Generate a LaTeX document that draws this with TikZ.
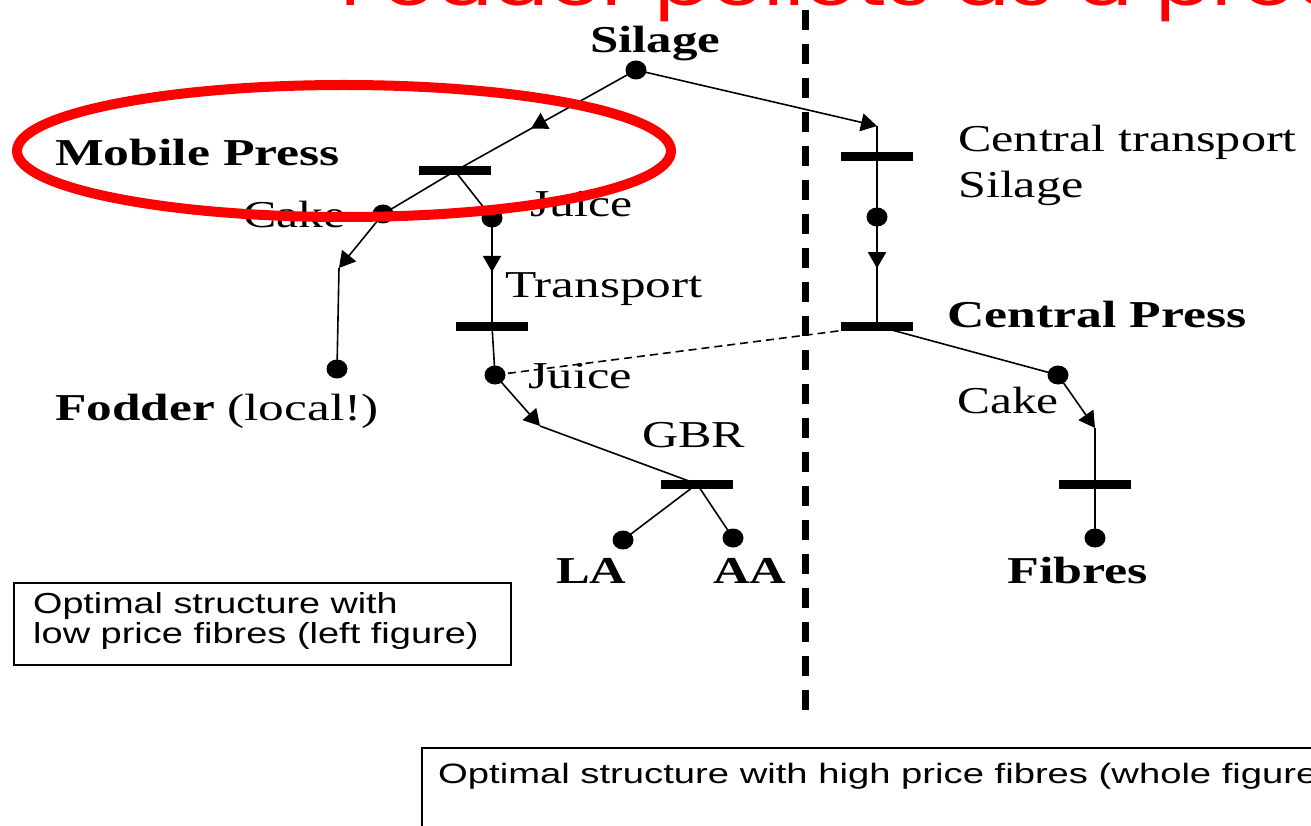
\documentclass[tikz,border=0pt]{standalone}
\usepackage{graphicx}
\usepackage{fontspec}
\setmainfont{Liberation Serif}
\newfontfamily\sansf{Liberation Sans}
\newfontfamily\titlef{Poppins}
\usetikzlibrary{arrows.meta,decorations.markings,shapes.geometric}
\pgfdeclarelayer{background}
\pgfsetlayers{background,main}
\newcommand{\sx}[2]{\scalebox{#1}[1]{#2}}
\begin{document}
\begin{tikzpicture}[x=1pt,y=-1pt,
  lbl/.style={inner sep=0pt, anchor=base west, font=\fontsize{38}{40}\selectfont},
  blbl/.style={inner sep=0pt, anchor=base west, font=\fontsize{38}{40}\selectfont\bfseries},
  slbl/.style={inner sep=0pt, anchor=base west, font=\sansf\fontsize{29}{31}\selectfont},
  dotn/.style={ellipse, fill=black, minimum width=21pt, minimum height=19pt, inner sep=0pt},
  barn/.style={rectangle, fill=black, minimum width=72pt, minimum height=9pt, inner sep=0pt},
  conn/.style={line width=1.6pt},
  tipped/.style={conn, -{Triangle[length=16pt,width=18pt]}},
  midarrow/.style={conn, postaction={decorate}, decoration={markings, mark=at position #1 with {\arrow{Triangle[length=16pt,width=18pt]}}}},
  boxn/.style={draw, line width=1.8pt, anchor=north west, inner sep=0pt}
]
\useasboundingbox (0,0) rectangle (1311,826);
\clip (0,0) rectangle (1311,826);

% title (cut off at the top)
\node[inner sep=0pt, anchor=base west, text=red, font=\titlef\fontsize{63}{63}\selectfont] (title) at (340,6) {\sx{1.33}{Fodder pellets as a product}};

% separator
\coordinate (sepT) at (805,10);
\coordinate (sepB) at (805,722);
\draw[line width=7pt, dash pattern=on 20pt off 14pt] (sepT) -- (sepB);

% dots
\node[dotn] (silage) at (636,70) {};
\node[dotn] (cakeL) at (383,214) {};
\node[dotn] (juiceU) at (492,218) {};
\node[dotn] (fodder) at (337,369) {};
\node[dotn] (juiceL) at (495,375) {};
\node[dotn] (la) at (623,540) {};
\node[dotn] (aa) at (733,538) {};
\node[dotn] (cdot) at (877,217) {};
\node[dotn] (cakeR) at (1058,375) {};
\node[dotn] (fibres) at (1095,538) {};

% bars
\node[barn] (mpbar) at (455,171) {};
\node[barn] (tbar) at (492,326) {};
\node[barn] (gbar) at (697,484) {};
\node[barn] (ctbar) at (877,157) {};
\node[barn] (cpbar) at (877,326) {};
\node[barn] (fbar) at (1095,484) {};

% corners
\coordinate (c1) at (877,126);
\coordinate (c2) at (339,268);
\coordinate (c3) at (540,426);
\coordinate (c4) at (1095,428);

\begin{pgfonlayer}{background}
\draw[midarrow=0.58] (silage.center) -- (mpbar.center);
\draw[tipped] (silage.center) -- (c1);
\draw[conn] (c1) -- (cdot.center);
\draw[midarrow=0.47] (cdot.center) -- (cpbar.center);
\draw[tipped] (mpbar.center) -- (cakeL.center) -- (c2);
\draw[conn] (c2) -- (fodder.center);
\draw[conn] (mpbar.center) -- (juiceU.center);
\draw[midarrow=0.5] (juiceU.center) -- (tbar.center);
\draw[conn] (tbar.center) -- (juiceL.center);
\draw[tipped] (juiceL.center) -- (c3);
\draw[conn] (c3) -- (gbar.center);
\draw[conn] (gbar.center) -- (la.center);
\draw[conn] (gbar.center) -- (aa.center);
\draw[conn, dash pattern=on 8pt off 5pt] (cpbar.center) -- (juiceL.center);
\draw[tipped] (cpbar.center) -- (cakeR.center) -- (c4);
\draw[conn] (c4) -- (fibres.center);
\end{pgfonlayer}

% labels
\node[blbl] (tSilage) at (590,53) {\sx{1.34}{Silage}};
\node[blbl] (tMobile) at (55,166) {\sx{1.36}{Mobile Press}};
\node[lbl] (tCakeL) at (243,228) {\sx{1.31}{Cake}};
\node[lbl] (tJuiceU) at (530,217) {\sx{1.31}{Juice}};
\node[lbl] (tTransport) at (505,297) {\sx{1.35}{Transport}};
\node[lbl] (tJuiceL) at (528,388) {\sx{1.33}{Juice}};
\node[lbl] (tFodder) at (55,420) {\sx{1.35}{\textbf{Fodder} (local!)}};
\node[lbl] (tGBR) at (642,447) {\sx{1.32}{GBR}};
\node[blbl] (tLA) at (556,583) {\sx{1.33}{LA}};
\node[blbl] (tAA) at (713,583) {\sx{1.33}{AA}};
\node[lbl] (tCT1) at (958,152) {\sx{1.32}{Central transport}};
\node[lbl] (tCT2) at (958,198) {\sx{1.32}{Silage}};
\node[blbl] (tCP) at (947,327) {\sx{1.36}{Central Press}};
\node[lbl] (tCakeR) at (957,413) {\sx{1.30}{Cake}};
\node[blbl] (tFibres) at (1007,583) {\sx{1.37}{Fibres}};

% boxes
\node[boxn, minimum width=497pt, minimum height=82pt] (box1) at (13,582) {};
\node[slbl] (b1a) at (33,613) {\sx{1.30}{Optimal structure with}};
\node[slbl] (b1b) at (33,643) {\sx{1.31}{low price fibres (left figure)}};
\node[boxn, minimum width=950pt, minimum height=120pt] (box2) at (421,747) {};
\node[slbl, font=\sansf\fontsize{28}{30}\selectfont] (b2a) at (438,783) {\sx{1.365}{Optimal structure with high price fibres (whole figure)}};

% red highlight ellipse
\draw[red, line width=10pt] (344,151) ellipse [x radius=327pt, y radius=66pt];
\end{tikzpicture}
\end{document}
